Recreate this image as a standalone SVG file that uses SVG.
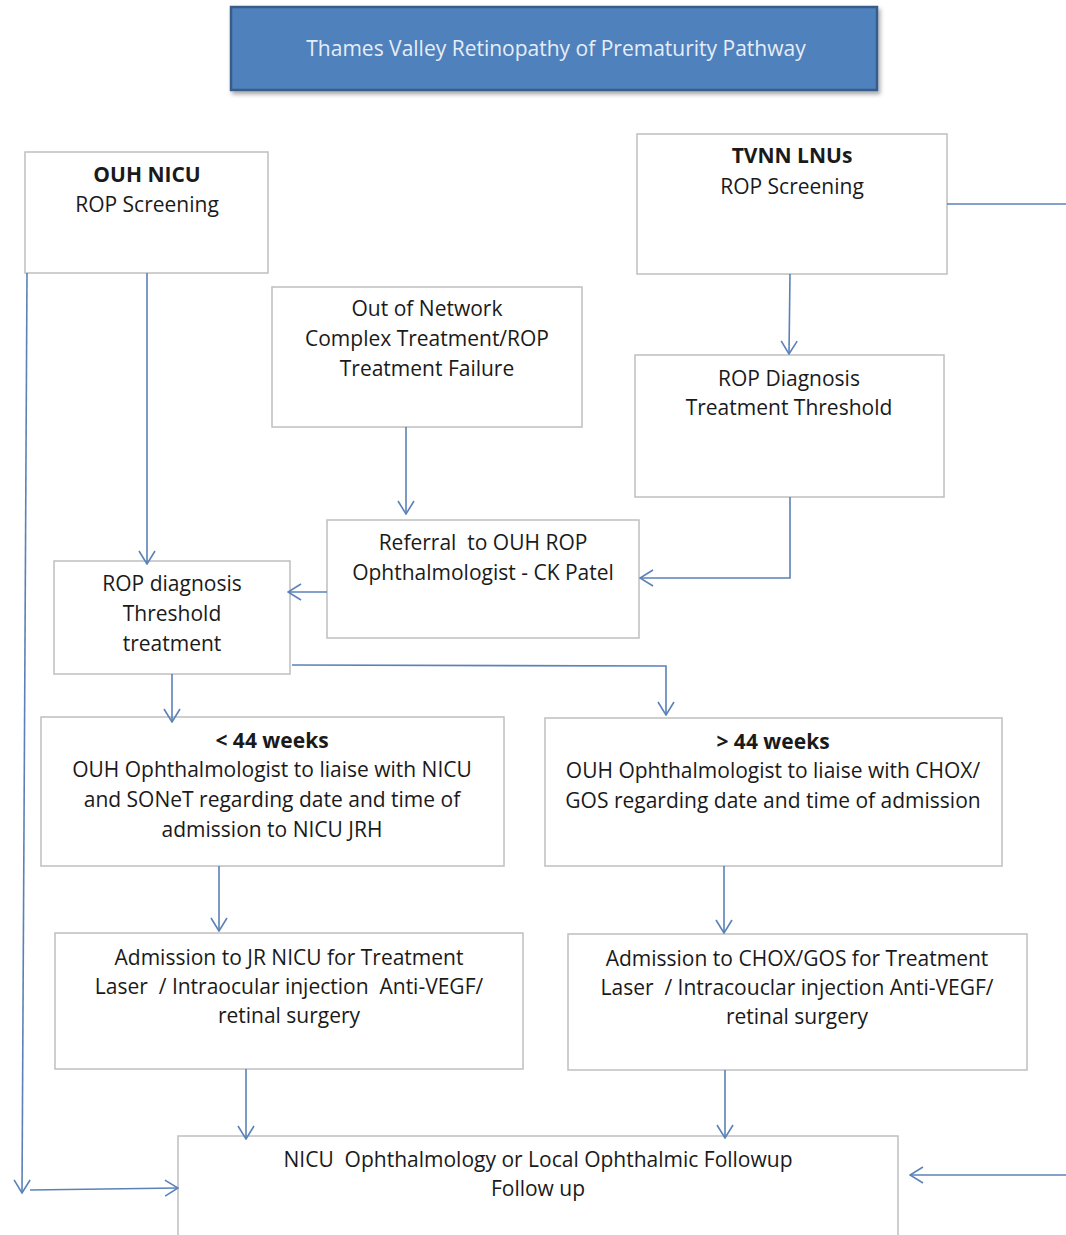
<svg xmlns="http://www.w3.org/2000/svg" width="1066" height="1235" viewBox="0 0 1066 1235">
<defs>
<marker id="ah" markerUnits="userSpaceOnUse" markerWidth="16" markerHeight="20" viewBox="0 0 16 20" refX="15" refY="10" orient="auto">
<path d="M2,2 L15,10 L2,18" fill="none" stroke="#5a82b8" stroke-width="1.6"/>
</marker>
<filter id="sh" x="-5%" y="-20%" width="110%" height="140%">
<feDropShadow dx="2" dy="3" stdDeviation="2" flood-color="#000" flood-opacity="0.35"/>
</filter>
</defs>
<style>
.box{fill:#fff;stroke:#bfbfbf;stroke-width:1.5}
.t{font-family:"Open Sans","Liberation Sans",sans-serif;font-size:21px;fill:#1a1a1a;text-anchor:middle;white-space:pre}
.b{font-weight:bold}
.c{fill:none;stroke:#5a82b8;stroke-width:1.6}
</style>
<rect width="1066" height="1235" fill="#fff"/>
<g id="title">
<rect x="231" y="7" width="646" height="83" fill="#4f81bd" stroke="#385d8a" stroke-width="2.5" filter="url(#sh)"/>
<text x="556" y="56" class="t" style="fill:#e6edf6">Thames Valley Retinopathy of Prematurity Pathway</text>
</g>
<g id="ouh-nicu">
<rect class="box" x="25" y="152" width="243" height="121"/>
<text x="147" y="182" class="t b">OUH NICU</text>
<text x="147" y="212" class="t">ROP Screening</text>
</g>
<g id="tvnn">
<rect class="box" x="637" y="134" width="310" height="140"/>
<text x="792" y="163" class="t b">TVNN LNUs</text>
<text x="792" y="194" class="t">ROP Screening</text>
</g>
<g id="out-of-network">
<rect class="box" x="272" y="287" width="310" height="140"/>
<text x="427" y="316" class="t">Out of Network</text>
<text x="427" y="346" class="t">Complex Treatment/ROP</text>
<text x="427" y="376" class="t">Treatment Failure</text>
</g>
<g id="rop-diagnosis-tvnn">
<rect class="box" x="635" y="355" width="309" height="142"/>
<text x="789" y="386" class="t">ROP Diagnosis</text>
<text x="789" y="415" class="t">Treatment Threshold</text>
</g>
<g id="referral">
<rect class="box" x="327" y="520" width="312" height="118"/>
<text x="483" y="550" class="t">Referral  to OUH ROP</text>
<text x="483" y="580" class="t">Ophthalmologist - CK Patel</text>
</g>
<g id="rop-diagnosis-ouh">
<rect class="box" x="54" y="561" width="236" height="113"/>
<text x="172" y="591" class="t">ROP diagnosis</text>
<text x="172" y="621" class="t">Threshold</text>
<text x="172" y="651" class="t">treatment</text>
</g>
<g id="lt44">
<rect class="box" x="41" y="717" width="463" height="149"/>
<text x="272" y="748" class="t b">&lt; 44 weeks</text>
<text x="272" y="777" class="t">OUH Ophthalmologist to liaise with NICU</text>
<text x="272" y="807" class="t">and SONeT regarding date and time of</text>
<text x="272" y="837" class="t">admission to NICU JRH</text>
</g>
<g id="gt44">
<rect class="box" x="545" y="718" width="457" height="148"/>
<text x="773" y="749" class="t b">&gt; 44 weeks</text>
<text x="773" y="778" class="t">OUH Ophthalmologist to liaise with CHOX/</text>
<text x="773" y="808" class="t">GOS regarding date and time of admission</text>
</g>
<g id="admission-jr">
<rect class="box" x="55" y="933" width="468" height="136"/>
<text x="289" y="965" class="t">Admission to JR NICU for Treatment</text>
<text x="289" y="994" class="t">Laser  / Intraocular injection  Anti-VEGF/</text>
<text x="289" y="1023" class="t">retinal surgery</text>
</g>
<g id="admission-chox">
<rect class="box" x="568" y="934" width="459" height="136"/>
<text x="797" y="966" class="t">Admission to CHOX/GOS for Treatment</text>
<text x="797" y="995" class="t">Laser  / Intracouclar injection Anti-VEGF/</text>
<text x="797" y="1024" class="t">retinal surgery</text>
</g>
<g id="followup">
<rect class="box" x="178" y="1136" width="720" height="110"/>
<text x="538" y="1167" class="t">NICU  Ophthalmology or Local Ophthalmic Followup</text>
<text x="538" y="1196" class="t">Follow up</text>
</g>
<g id="connectors">
<path class="c" d="M147,273 L147,564" marker-end="url(#ah)"/>
<path class="c" d="M27,273 L22,1193" marker-end="url(#ah)"/>
<path class="c" d="M30,1190 L178,1188" marker-end="url(#ah)"/>
<path class="c" d="M947,204 L1066,204"/>
<path class="c" d="M1066,1175 L910,1175" marker-end="url(#ah)"/>
<path class="c" d="M790,274 L789,354" marker-end="url(#ah)"/>
<path class="c" d="M406,427 L406,514" marker-end="url(#ah)"/>
<path class="c" d="M790,497 L790,578 L640,578" marker-end="url(#ah)"/>
<path class="c" d="M327,592 L288,592" marker-end="url(#ah)"/>
<path class="c" d="M172,674 L172,722" marker-end="url(#ah)"/>
<path class="c" d="M292,665 L666,666 L666,715" marker-end="url(#ah)"/>
<path class="c" d="M219,866 L219,931" marker-end="url(#ah)"/>
<path class="c" d="M724,866 L724,933" marker-end="url(#ah)"/>
<path class="c" d="M246,1069 L246,1139" marker-end="url(#ah)"/>
<path class="c" d="M725,1070 L725,1138" marker-end="url(#ah)"/>
</g>
</svg>
